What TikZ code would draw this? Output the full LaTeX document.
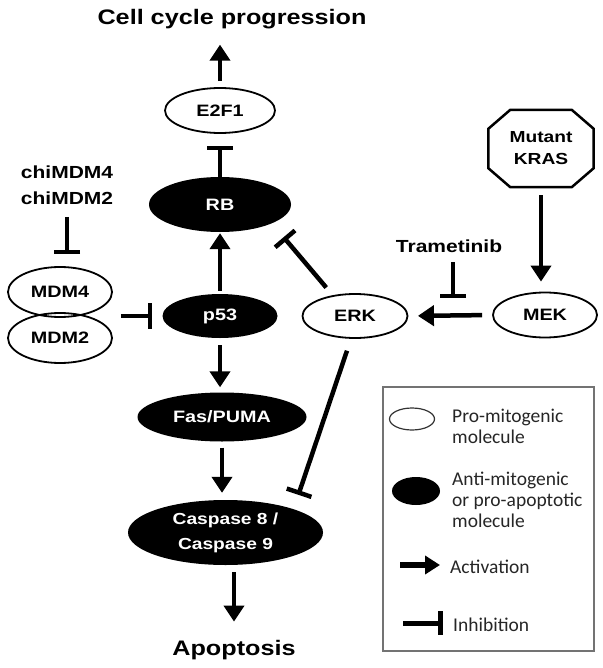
\documentclass[tikz,border=0pt]{standalone}
\usepackage{fontspec}
\setmainfont{Liberation Sans}[FakeStretch=1.2]
\newfontfamily\legendfont{Carlito}
\usetikzlibrary{arrows.meta,shapes.geometric,calc}
\begin{document}
\begin{tikzpicture}[x=1pt,y=-1pt,
  wnode/.style={ellipse, draw=black, line width=1.8pt, inner sep=0pt, font=\fontsize{16.5}{20}\selectfont\bfseries},
  bnode/.style={ellipse, fill=black, inner sep=0pt, text=white, font=\fontsize{16.5}{20}\selectfont\bfseries},
  lbl/.style={inner sep=0pt, font=\fontsize{17.5}{26}\selectfont\bfseries, align=center},
  big/.style={inner sep=0pt, font=\fontsize{21}{25}\selectfont\bfseries},
  act/.style={line width=4.5pt, -{Triangle[length=16pt,width=20pt]}},
  inh/.style={line width=4.5pt, -{Bar[width=26pt]}},
  legtext/.style={inner sep=0pt, align=left, text=black!85, font=\legendfont\fontsize{19.5}{21}\selectfont},
]
\fill[white] (0,0) rectangle (602,668);
\useasboundingbox (0,0) rectangle (602,668);

% main nodes
\node[big, anchor=base] (title) at (232,25) {Cell cycle progression};
\node[wnode, minimum width=110pt, minimum height=45pt] (e2f1) at (220,110.5) {E2F1};
\node[bnode, minimum width=142pt, minimum height=55pt] (rb) at (220,204.5) {RB};
\node[lbl, anchor=north] (chi) at (67,165.5) {chiMDM4\\chiMDM2};
\node[wnode, minimum width=104pt, minimum height=50pt] (mdm4) at (60,292) {MDM4};
\node[wnode, minimum width=104pt, minimum height=50pt] (mdm2) at (60,338) {MDM2};
\node[bnode, minimum width=115pt, minimum height=44pt] (p53) at (220,316) {p53};
\node[bnode, minimum width=169pt, minimum height=49pt] (fas) at (222,417) {Fas/PUMA};
\node[bnode, minimum width=195pt, minimum height=65pt, align=center, font=\fontsize{16}{25}\selectfont\bfseries] (casp) at (225.5,532.5) {Caspase 8 /\\Caspase 9};
\node[big, anchor=base] (apop) at (234,655) {Apoptosis};
\node[wnode, minimum width=105pt, minimum height=44pt] (erk) at (355,316) {ERK};
\node[wnode, minimum width=104pt, minimum height=45pt] (mek) at (545,315) {MEK};
\node[inner sep=0pt, minimum width=105pt, minimum height=77pt, align=center, font=\fontsize{16}{22}\selectfont\bfseries] (kras) at (541,148.5) {Mutant\\KRAS};
\draw[line width=2.5pt, line join=miter]
  ([xshift=22pt]kras.north west) -- ([xshift=-22pt]kras.north east)
  -- ([yshift=-19pt]kras.north east) -- ([yshift=19pt]kras.south east)
  -- ([xshift=-22pt]kras.south east) -- ([xshift=22pt]kras.south west)
  -- ([yshift=19pt]kras.south west) -- ([yshift=-19pt]kras.north west) -- cycle;
\node[lbl, anchor=base] (tram) at (449,252) {Trametinib};
\coordinate (tramt) at (453,315);

% connectors
\draw[act, shorten <=6pt, shorten >=15pt] (e2f1.north) -- (e2f1.north |- title.south);
\draw[inh, shorten >=12pt] (rb.north) -- (e2f1.south);
\draw[act, shorten <=3pt, shorten >=1pt] (p53.north) -- (rb.south);
\draw[act, shorten <=7pt, shorten >=5pt] (p53.south) -- (p53.south |- fas.north);
\draw[act, shorten <=6pt, shorten >=7pt] (fas.south) -- (fas.south |- casp.north);
\draw[act, shorten <=7pt, shorten >=18pt] (apop.north |- casp.south) -- (apop.north);
\draw[inh, shorten <=8pt, shorten >=10pt] (p53.west -| mdm4.east) -- (p53.west);
\draw[inh, shorten <=12pt, shorten >=12pt] (chi.south) -- (chi.south |- mdm4.north);
\draw[inh, shorten <=10pt, shorten >=18pt] (erk.137) -- (rb.-20);
\draw[inh, shorten <=12.5pt, shorten >=15pt] (erk.-100) -- (casp.19);
\draw[act, shorten <=10pt, shorten >=9.5pt] (mek.west) -- (erk.east);
\draw[inh, shorten <=10pt, shorten >=17pt] (tramt |- tram.south) -- (tramt);
\draw[act, shorten <=8pt, shorten >=10pt] (kras.south) -- (kras.south |- mek.north);

% legend
\draw[draw=black!55, line width=1.8pt] (383,387) rectangle (594,651);
\node[ellipse, draw=black!80, line width=1.2pt, minimum width=45pt, minimum height=22pt, inner sep=0pt] (lgw) at (412,419) {};
\node[legtext, anchor=north west] (lgwt) at (452,409) {Pro-mitogenic\\molecule};
\node[ellipse, fill=black, minimum width=48pt, minimum height=28pt, inner sep=0pt] (lgb) at (416,491) {};
\node[legtext, anchor=north west] (lgbt) at (452,472) {Anti-mitogenic\\or pro-apoptotic\\molecule};
\coordinate (la1) at (400,565);
\coordinate (la2) at (440,565);
\draw[line width=6pt, -{Triangle[length=15pt,width=18pt]}] (la1) -- (la2);
\node[legtext, anchor=base west] (lgat) at (450,573) {Activation};
\coordinate (li1) at (403,623);
\coordinate (li2) at (443,623);
\draw[line width=5pt, -{Bar[width=24pt]}] (li1) -- (li2);
\node[legtext, anchor=base west] (lgit) at (453,631.5) {Inhibition};
\end{tikzpicture}
\end{document}
